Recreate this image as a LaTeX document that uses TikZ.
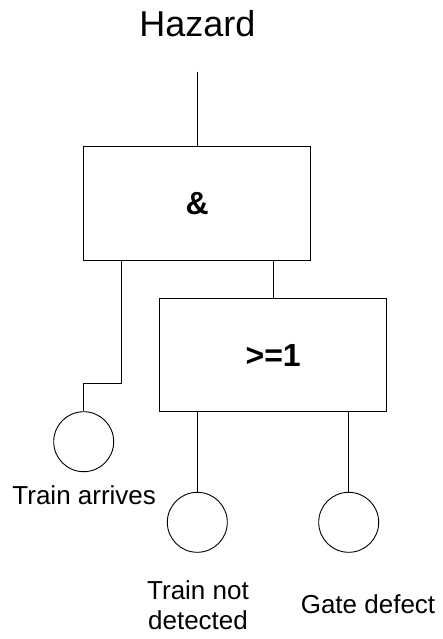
\documentclass[tikz,border=0pt]{standalone}
\usepackage{fontspec}
\setmainfont{Liberation Sans}
\usetikzlibrary{calc}
\begin{document}
\begin{tikzpicture}[x=1pt,y=-1pt,line width=0.9pt,
  gatebox/.style={draw,rectangle,minimum width=227pt,minimum height=113.5pt,inner sep=0pt,font=\fontsize{32}{36}\selectfont\bfseries},
  event/.style={draw,circle,minimum size=60pt,inner sep=0pt},
  lbl/.style={inner sep=0pt,font=\fontsize{26}{30.6}\selectfont}]
\useasboundingbox[fill=white] (0,0) rectangle (443,639);
\node[inner sep=0pt,anchor=base,font=\fontsize{36}{40}\selectfont] (hz) at (197.3,36.7) {Hazard};
\coordinate (top) at (197.3,71.7);
\node[gatebox] (and) at (197.3,203.5) {\&};
\node[gatebox] (or) at (273.2,355) {>=1};
\node[event] (ta) at (83.7,441.7) {};
\node[event] (tnd) at (197.3,522.3) {};
\node[event] (gd) at (348.7,522.3) {};
\node[lbl,anchor=base] (lta) at (84.2,504.3) {Train arrives};
\node[lbl,anchor=north,align=center] (ltnd) at (198,580) {Train not\\detected};
\node[lbl,anchor=base] (lgd) at (368,613.3) {Gate defect};
\draw (top) -- (and.north);
\draw ($(and.south west)+(38.3,0)$) -- ++(0,123) -| (ta.north);
\draw (or.north |- and.south) -- (or.north);
\draw (tnd.north |- or.south) -- (tnd.north);
\draw (gd.north |- or.south) -- (gd.north);
\end{tikzpicture}
\end{document}
